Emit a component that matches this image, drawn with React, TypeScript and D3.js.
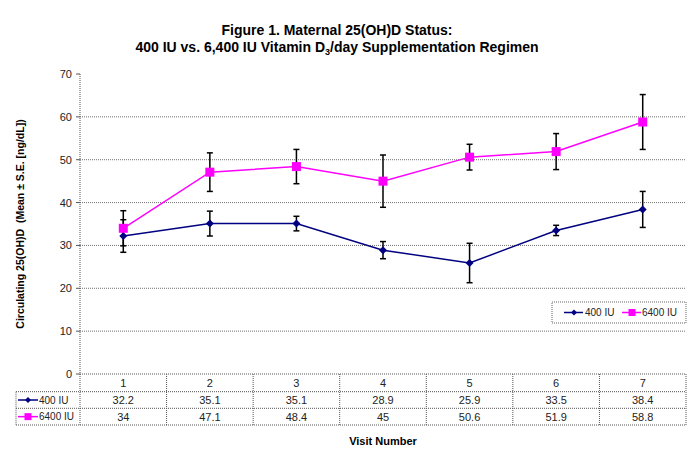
import React from "react";
import * as d3 from "d3";

const visits = ["1", "2", "3", "4", "5", "6", "7"];
const series400 = [32.2, 35.1, 35.1, 28.9, 25.9, 33.5, 38.4];
const se400 = [3.8, 2.9, 1.7, 2.0, 4.6, 1.2, 4.2];
const series6400 = [34, 47.1, 48.4, 45, 50.6, 51.9, 58.8];
const se6400 = [4.1, 4.5, 4.0, 6.1, 3.0, 4.2, 6.4];
const seriesNames = ["400 IU", "6400 IU"];
const yTicks = [0, 10, 20, 30, 40, 50, 60, 70];

const FONT = "Arial, 'Liberation Sans', sans-serif";
const NAVY = "#000080";
const MAG = "#FF00FF";

export default function App() {
  const W = 690, H = 467;
  const left = 80, right = 686, top = 74, bottom = 374;
  const x = d3.scaleBand<string>().domain(visits).range([left, right]);
  const y = d3.scaleLinear().domain([0, 70]).range([bottom, top]);
  const cx = (v: string) => (x(v) as number) + x.bandwidth() / 2;
  const line = d3.line<number>().x((_, i) => cx(visits[i])).y((d) => y(d));

  const rowH = [bottom, 391.7, 408.3, 425];
  const tableLeft = 16;

  const diamond = (px: number, py: number, s: number, key: string) => (
    <path key={key} d={`M${px},${py - s}L${px + s},${py}L${px},${py + s}L${px - s},${py}Z`} fill={NAVY} />
  );
  const square = (px: number, py: number, s: number, key: string) => (
    <rect key={key} x={px - s} y={py - s} width={2 * s} height={2 * s} fill={MAG} />
  );

  const errBars = (vals: number[], ses: number[], pref: string) =>
    vals.map((v, i) => {
      const px = cx(visits[i]);
      const y1 = y(v + ses[i]);
      const y2 = y(v - ses[i]);
      return (
        <g key={pref + i} stroke="#000" strokeWidth={1.5}>
          <line x1={px} x2={px} y1={y1} y2={y2} />
          <line x1={px - 3} x2={px + 3} y1={y1} y2={y1} />
          <line x1={px - 3} x2={px + 3} y1={y2} y2={y2} />
        </g>
      );
    });

  const legY = 312.5;

  return (
    <svg width={W} height={H} style={{ position: "absolute", left: 0, top: 0, background: "#fff" }} fontFamily={FONT}>
      <rect width={W} height={H} fill="#fff" />
      {/* Title */}
      <text x={337} y={35} textAnchor="middle" fontWeight="bold" fontSize={14}>
        Figure 1. Maternal 25(OH)D Status:
      </text>
      <text x={337} y={52} textAnchor="middle" fontWeight="bold" fontSize={14}>
        400 IU vs. 6,400 IU Vitamin D
        <tspan fontSize={9} dy={3}>3</tspan>
        <tspan dy={-3}>/day Supplementation Regimen</tspan>
      </text>

      {/* gridlines */}
      {yTicks.filter((t) => t > 0 && t < 70).map((t) => (
        <line key={"g" + t} x1={left} x2={right} y1={y(t)} y2={y(t)} stroke="#707070" strokeDasharray="1,1" />
      ))}

      {/* y axis */}
      <line x1={left} x2={left} y1={top} y2={rowH[3]} stroke="#555" strokeDasharray="1,1" />
      {yTicks.map((t) => (
        <g key={"t" + t}>
          <line x1={left - 4} x2={left} y1={y(t)} y2={y(t)} stroke="#555" />
          <text x={left - 8} y={y(t) + 4} textAnchor="end" fontSize={11} fill="#222">{t}</text>
        </g>
      ))}
      <text transform={`translate(24,${(top + bottom) / 2}) rotate(-90)`} textAnchor="middle" fontWeight="bold" fontSize={10.5}>
        Circulating 25(OH)D{"\u00a0\u00a0"}(Mean ± S.E. [ng/dL])
      </text>

      {/* table */}
      <g stroke="#555" strokeDasharray="1,1" fill="none">
        <line x1={left} x2={right} y1={rowH[0]} y2={rowH[0]} />
        <line x1={tableLeft} x2={right} y1={rowH[1]} y2={rowH[1]} />
        <line x1={tableLeft} x2={right} y1={rowH[2]} y2={rowH[2]} />
        <line x1={tableLeft} x2={right} y1={rowH[3]} y2={rowH[3]} />
        <line x1={tableLeft} x2={tableLeft} y1={rowH[1]} y2={rowH[3]} />
        {visits.map((v) => (
          <line key={"v" + v} x1={(x(v) as number) + x.bandwidth()} x2={(x(v) as number) + x.bandwidth()} y1={rowH[0]} y2={rowH[3]} />
        ))}
      </g>
      {visits.map((v, i) => (
        <g key={"c" + v} fontSize={11} textAnchor="middle" fill="#222">
          <text x={cx(v)} y={rowH[0] + 13}>{v}</text>
          <text x={cx(v)} y={rowH[1] + 12.5}>{series400[i]}</text>
          <text x={cx(v)} y={rowH[2] + 12.5}>{series6400[i]}</text>
        </g>
      ))}
      <g>
        <line x1={18} x2={38} y1={(rowH[1] + rowH[2]) / 2} y2={(rowH[1] + rowH[2]) / 2} stroke={NAVY} strokeWidth={1.5} />
        {diamond(28, (rowH[1] + rowH[2]) / 2, 3, "ld1")}
        <text x={39} y={rowH[1] + 12} fontSize={10} fill="#222">{seriesNames[0]}</text>
        <line x1={18} x2={38} y1={(rowH[2] + rowH[3]) / 2} y2={(rowH[2] + rowH[3]) / 2} stroke={MAG} strokeWidth={1.5} />
        {square(28, (rowH[2] + rowH[3]) / 2, 3.5, "ls1")}
        <text x={39} y={rowH[2] + 12} fontSize={10} fill="#222">{seriesNames[1]}</text>
      </g>

      <text x={(left + right) / 2} y={445} textAnchor="middle" fontWeight="bold" fontSize={11}>Visit Number</text>

      {/* series lines */}
      <path d={line(series6400) as string} fill="none" stroke={MAG} strokeWidth={1.5} />
      <path d={line(series400) as string} fill="none" stroke={NAVY} strokeWidth={1.5} />
      {errBars(series400, se400, "e4")}
      {errBars(series6400, se6400, "e6")}
      {series400.map((v, i) => diamond(cx(visits[i]), y(v), 4, "d" + i))}
      {series6400.map((v, i) => square(cx(visits[i]), y(v), 4.5, "s" + i))}

      {/* legend */}
      <rect x={552} y={302} width={134} height={21} fill="#fff" stroke="#666" strokeDasharray="1,1" />
      <line x1={564} x2={583} y1={legY} y2={legY} stroke={NAVY} strokeWidth={1.5} />
      {diamond(574, legY, 3, "lg1")}
      <text x={585} y={legY + 3.5} fontSize={10} fill="#222">{seriesNames[0]}</text>
      <line x1={622} x2={641} y1={legY} y2={legY} stroke={MAG} strokeWidth={1.5} />
      {square(632, legY, 3.5, "lg2")}
      <text x={642} y={legY + 3.5} fontSize={10} fill="#222">{seriesNames[1]}</text>
    </svg>
  );
}
